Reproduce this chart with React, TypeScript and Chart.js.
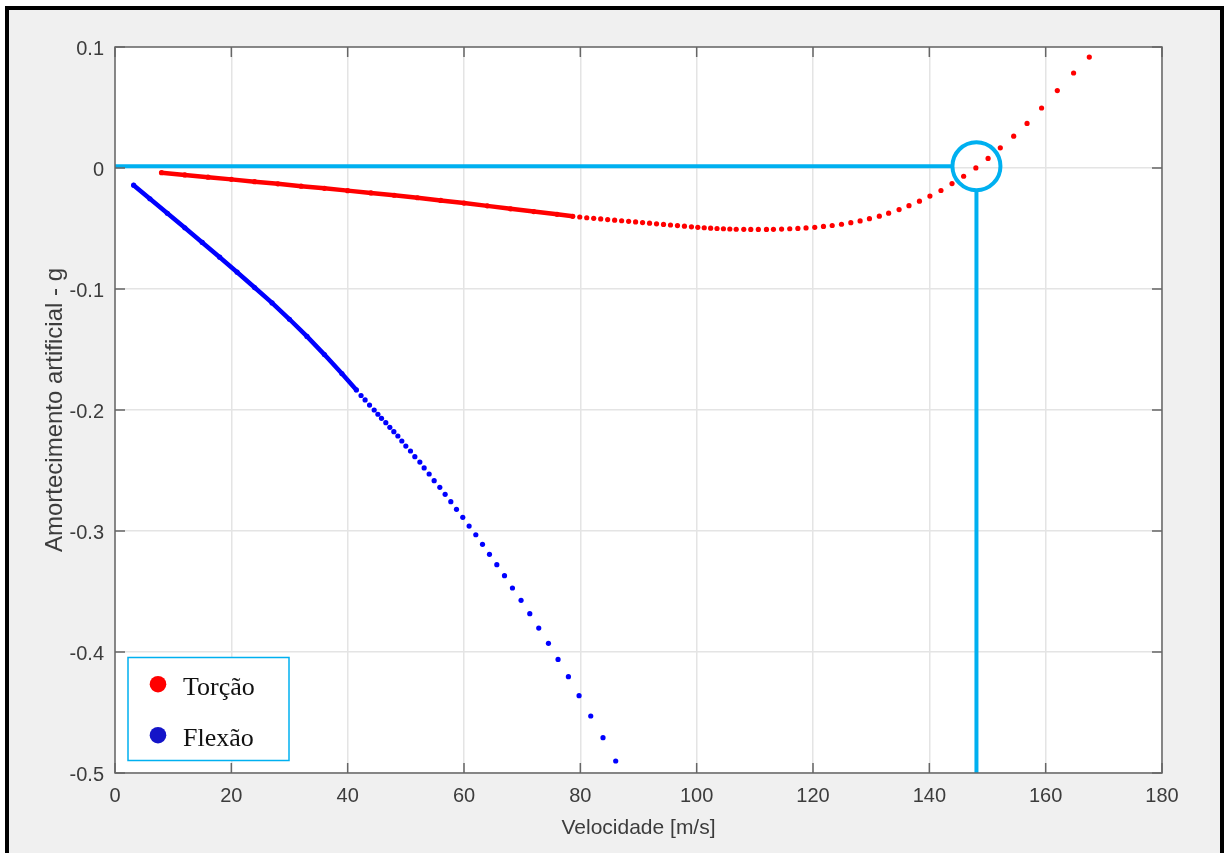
import React, { useEffect, useRef } from 'react';
import { Chart, registerables } from 'chart.js';

Chart.register(...registerables);

// ---- data -------------------------------------------------------------
const X_TICKS = [0, 20, 40, 60, 80, 100, 120, 140, 160, 180];
const Y_TICKS = [-0.5, -0.4, -0.3, -0.2, -0.1, 0, 0.1];
const X_LABEL = 'Velocidade [m/s]';
const Y_LABEL = 'Amortecimento artificial - g';
const SERIES_NAMES = ['Torção', 'Flexão'];

// Torção (torsion mode)
const RED_X = [
  8, 12, 16, 20, 24, 28, 32, 36, 40, 44, 48, 52, 56, 60, 64, 68, 72, 76, 78.7,
  79.9, 81.1, 82.3, 83.5, 84.7, 85.9, 87.1, 88.3, 89.5, 90.7, 91.9, 93.1, 94.3,
  95.5, 96.7, 97.9, 99.1, 100.2, 101.3, 102.4, 103.5, 104.6, 105.7, 106.8,
  108.1, 109.3, 110.6, 112.0, 113.2, 114.6, 116.0, 117.4, 118.8, 120.3, 121.8,
  123.3, 124.9, 126.5, 128.1, 129.7, 131.4, 133.0, 134.8, 136.5, 138.3, 140.1,
  142.0, 143.9, 145.9, 148.0, 150.1, 152.2, 154.5, 156.8, 159.3, 162.0, 164.8,
  167.5,
];
const RED_Y = [
  -0.0039, -0.0057, -0.0076, -0.0094, -0.0113, -0.0131, -0.015, -0.0168,
  -0.0187, -0.0206, -0.0225, -0.0246, -0.0268, -0.029, -0.0313, -0.0337,
  -0.036, -0.0383, -0.0399,
  -0.0405, -0.0411, -0.0416, -0.0421, -0.0426, -0.0431, -0.0436, -0.0441,
  -0.0446, -0.0451, -0.0456, -0.0461, -0.0466, -0.0471, -0.0476, -0.0481,
  -0.0486, -0.049, -0.0494, -0.0497, -0.05, -0.0502, -0.0504, -0.0506,
  -0.0507, -0.0508, -0.0508, -0.0508, -0.0507, -0.0505, -0.0502, -0.0499,
  -0.0495, -0.049, -0.0483, -0.0475, -0.0465, -0.0452, -0.0437, -0.0419,
  -0.0398, -0.0373, -0.0344, -0.0311, -0.0274, -0.0232, -0.0186, -0.0129,
  -0.0068, 0.0001, 0.0079, 0.0167, 0.0263, 0.0368, 0.0496, 0.064, 0.0785,
  0.0917,
];
const RED_DENSE_END = 78.7;

// Flexão (bending mode)
const BLUE_X = [
  3.2, 6, 9, 12, 15, 18, 21, 24, 27, 30, 33, 36, 39, 41.5,
  42.3, 43.0, 43.76, 44.56, 45.2, 45.82, 46.56, 47.25, 47.94, 48.63, 49.31,
  50.0, 50.8, 51.55, 52.41, 53.15, 54.01, 54.87, 55.84, 56.76, 57.73, 58.71,
  59.79, 60.88, 62.03, 63.18, 64.38, 65.64, 66.96, 68.33, 69.81, 71.31, 72.85,
  74.52, 76.17, 77.95, 79.78, 81.79, 83.9, 86.08,
];
const BLUE_Y = [
  -0.0142, -0.0254, -0.0374, -0.0494, -0.0615, -0.0737, -0.0861, -0.0988,
  -0.1115, -0.125, -0.1392, -0.1542, -0.1699, -0.1834,
  -0.188, -0.1917, -0.1959, -0.2, -0.2035, -0.2069, -0.2105, -0.2143, -0.2179,
  -0.2215, -0.2256, -0.2298, -0.2339, -0.2386, -0.243, -0.2479, -0.2529,
  -0.2584, -0.2639, -0.2697, -0.2758, -0.2821, -0.2887, -0.2959, -0.3031,
  -0.311, -0.3193, -0.3278, -0.3369, -0.3471, -0.3573, -0.3683, -0.3802,
  -0.3928, -0.4061, -0.4204, -0.4361, -0.4529, -0.4708, -0.4901,
];
const BLUE_DENSE_END = 41.5;

// flutter crossing marker
const CROSS_X = 148.1;
const CROSS_Y = 0.0015;

// ---- styles -----------------------------------------------------------
const RED = '#ff0000';
const BLUE = '#0000ff';
const LEGEND_BLUE = '#1414c8';
const CYAN = '#00b0f0';
const AXIS = '#666666';
const TEXT = '#3c3c3c';
const SANS = '"Liberation Sans", Arial, Helvetica, sans-serif';
const SERIF = '"Liberation Serif", "Times New Roman", serif';

const fmt = (v: number) => {
  const r = Math.round(v * 10) / 10;
  return r === 0 ? '0' : String(r);
};

const decorPlugin = {
  id: 'decor',
  beforeDraw(chart: any) {
    const { ctx, chartArea: a } = chart;
    ctx.save();
    ctx.fillStyle = '#ffffff';
    ctx.fillRect(a.left, a.top, a.right - a.left, a.bottom - a.top);
    ctx.restore();
  },
  afterDatasetsDraw(chart: any) {
    const { ctx, chartArea: a, scales } = chart;
    const xs = scales.x;
    const ys = scales.y;
    ctx.save();

    // cyan marker
    const cx = xs.getPixelForValue(CROSS_X);
    const cy = ys.getPixelForValue(CROSS_Y);
    const R = 24;
    ctx.strokeStyle = CYAN;
    ctx.lineWidth = 4;
    ctx.beginPath();
    ctx.moveTo(xs.getPixelForValue(0), cy);
    ctx.lineTo(cx - R, cy);
    ctx.stroke();
    ctx.beginPath();
    ctx.arc(cx, cy, R, 0, Math.PI * 2);
    ctx.stroke();
    ctx.beginPath();
    ctx.moveTo(cx, cy + R);
    ctx.lineTo(cx, a.bottom);
    ctx.stroke();

    // axes box + inward ticks
    ctx.strokeStyle = AXIS;
    ctx.lineWidth = 1.5;
    ctx.strokeRect(a.left, a.top, a.right - a.left, a.bottom - a.top);
    const TL = 10;
    ctx.beginPath();
    X_TICKS.forEach((v) => {
      const px = xs.getPixelForValue(v);
      ctx.moveTo(px, a.bottom);
      ctx.lineTo(px, a.bottom - TL);
      ctx.moveTo(px, a.top);
      ctx.lineTo(px, a.top + TL);
    });
    Y_TICKS.forEach((v) => {
      const py = ys.getPixelForValue(v);
      ctx.moveTo(a.left, py);
      ctx.lineTo(a.left + TL, py);
      ctx.moveTo(a.right, py);
      ctx.lineTo(a.right - TL, py);
    });
    ctx.stroke();

    // legend
    const bx = a.left + 13;
    const bw = 161;
    const bh = 103;
    const by = a.bottom - 12.5 - bh;
    ctx.fillStyle = '#ffffff';
    ctx.fillRect(bx, by, bw, bh);
    ctx.strokeStyle = CYAN;
    ctx.lineWidth = 1.5;
    ctx.strokeRect(bx, by, bw, bh);
    const dotColors = [RED, LEGEND_BLUE];
    chart.data.datasets.forEach((ds: any, i: number) => {
      const dy = by + 26.7 + i * 51;
      ctx.fillStyle = dotColors[i];
      ctx.beginPath();
      ctx.arc(bx + 30, dy, 8.3, 0, Math.PI * 2);
      ctx.fill();
      ctx.fillStyle = '#111111';
      ctx.font = `26px ${SERIF}`;
      ctx.textBaseline = 'alphabetic';
      ctx.textAlign = 'left';
      ctx.fillText(ds.label, bx + 55, dy + 11);
    });
    ctx.restore();
  },
};

export default function App() {
  const ref = useRef<HTMLCanvasElement | null>(null);

  useEffect(() => {
    if (!ref.current) return;
    const mk = (xsArr: number[], ysArr: number[]) =>
      xsArr.map((x, i) => ({ x, y: ysArr[i] }));
    const chart = new Chart(ref.current, {
      type: 'scatter',
      data: {
        datasets: [
          {
            label: SERIES_NAMES[0],
            data: mk(RED_X, RED_Y),
            backgroundColor: RED,
            borderColor: RED,
            pointRadius: 2.6,
            pointBorderWidth: 0,
            showLine: true,
            borderWidth: 4.5,
            borderCapStyle: 'round',
            segment: {
              borderColor: (c: any) =>
                c.p1.parsed.x <= RED_DENSE_END ? RED : 'rgba(0,0,0,0)',
            },
          } as any,
          {
            label: SERIES_NAMES[1],
            data: mk(BLUE_X, BLUE_Y),
            backgroundColor: BLUE,
            borderColor: BLUE,
            pointRadius: 2.6,
            pointBorderWidth: 0,
            showLine: true,
            borderWidth: 4.5,
            borderCapStyle: 'round',
            segment: {
              borderColor: (c: any) =>
                c.p1.parsed.x <= BLUE_DENSE_END ? BLUE : 'rgba(0,0,0,0)',
            },
          } as any,
        ],
      },
      options: {
        responsive: false,
        animation: false,
        devicePixelRatio: 1,
        layout: { padding: { top: 47, right: 62, bottom: 0, left: 0 } },
        plugins: {
          legend: { display: false },
          tooltip: { enabled: false },
        },
        scales: {
          x: {
            type: 'linear',
            min: 0,
            max: 180,
            afterBuildTicks: (s: any) => {
              s.ticks = X_TICKS.map((v) => ({ value: v }));
            },
            afterFit: (s: any) => {
              s.height = 80;
            },
            ticks: {
              callback: (v: any) => String(v),
              font: { family: SANS, size: 20 },
              color: TEXT,
              padding: 11,
              maxRotation: 0,
              autoSkip: false,
            },
            grid: { color: '#e4e4e4', lineWidth: 1.5, drawTicks: false },
            border: { display: false },
            title: {
              display: true,
              text: X_LABEL,
              font: { family: SANS, size: 21 },
              color: TEXT,
              padding: { top: 0, bottom: 12.4 },
            },
          },
          y: {
            type: 'linear',
            min: -0.5,
            max: 0.1,
            afterBuildTicks: (s: any) => {
              s.ticks = Y_TICKS.map((v) => ({ value: v }));
            },
            afterFit: (s: any) => {
              s.width = 115;
            },
            ticks: {
              callback: (v: any) => fmt(Number(v)),
              font: { family: SANS, size: 20 },
              color: TEXT,
              padding: 11,
              labelOffset: 2,
              autoSkip: false,
            },
            grid: { color: '#e4e4e4', lineWidth: 1.5, drawTicks: false },
            border: { display: false },
            title: {
              display: true,
              text: Y_LABEL,
              font: { family: SANS, size: 24 },
              color: TEXT,
              padding: { top: 40.6, bottom: 0 },
            },
          },
        },
      } as any,
      plugins: [decorPlugin],
    });
    return () => chart.destroy();
  }, []);

  return (
    <div
      style={{
        position: 'fixed',
        left: 0,
        top: 0,
        width: 1224,
        height: 853,
        overflow: 'hidden',
        background: '#ffffff',
      }}
    >
      <div
        style={{
          position: 'absolute',
          left: 5,
          top: 6,
          width: 1219,
          height: 900,
          boxSizing: 'border-box',
          border: '4px solid #000',
          background: '#f0f0f0',
        }}
      />
      <canvas
        ref={ref}
        width={1224}
        height={853}
        style={{ position: 'absolute', left: 0, top: 0 }}
      />
    </div>
  );
}
